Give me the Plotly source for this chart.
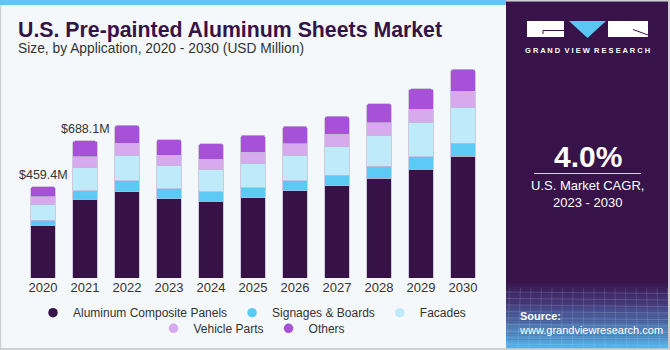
import plotly.graph_objects as go

years = ["2020", "2021", "2022", "2023", "2024", "2025", "2026", "2027", "2028", "2029", "2030"]
acp = [265, 395, 432, 398, 385, 403, 438, 463, 502, 547, 611]
signage = [25, 43, 55, 49, 47, 50, 49, 54, 59, 62, 65]
facades = [78, 116, 129, 116, 112, 123, 129, 142, 156, 173, 181]
vehicle = [39, 54, 60, 52, 52, 55, 57, 62, 63, 65, 80]
others = [52, 80, 90, 80, 78, 85, 89, 90, 94, 102, 110]
label_years = ["2020", "2021"]
label_texts = ["$459.4M", "$688.1M"]

series = [
    ("Aluminum Composite Panels", acp, "#371247", "legend"),
    ("Signages & Boards", signage, "#5BCBF5", "legend"),
    ("Facades", facades, "#BEEAF9", "legend"),
    ("Vehicle Parts", vehicle, "#D6AAEC", "legend2"),
    ("Others", others, "#A750D8", "legend2"),
]

FONT = "Liberation Sans"
BG = "#F4F8FB"

# plot area in pixels
PX0, PW = 22, 462
PYB, PH = 278, 218


def px(x):
    return (x - PX0) / PW


def py(y):
    return (PYB - y) / PH


fig = go.Figure()
for name, vals, color, lg in series:
    fig.add_trace(go.Bar(
        x=years, y=vals, name=name, showlegend=False,
        marker=dict(color=color, line=dict(color="rgba(190,185,210,0.9)", width=0.8)),
        hoverinfo="skip",
    ))
for name, vals, color, lg in series:
    fig.add_trace(go.Scatter(
        x=[None], y=[None], mode="markers", name=name, legend=lg,
        marker=dict(color=color, size=9.5, symbol="circle"),
    ))

totals = [a + b + c + d + e for a, b, c, d, e in zip(acp, signage, facades, vehicle, others)]
annotations = []
for yr, txt in zip(label_years, label_texts):
    i = years.index(yr)
    annotations.append(dict(x=i, y=totals[i], xref="x", yref="y", text=txt, showarrow=False,
                            yanchor="bottom", yshift=3,
                            font=dict(family=FONT, size=12.5, color="#333333")))

# Title texts
annotations += [
    dict(xref="paper", yref="paper", x=px(16), y=py(44), xanchor="left", yanchor="bottom",
         text="<b>U.S. Pre-painted Aluminum Sheets Market</b>", showarrow=False,
         font=dict(family=FONT, size=21.3, color="#361347")),
    dict(xref="paper", yref="paper", x=px(16), y=py(49), xanchor="left", yanchor="middle",
         text="Size, by Application, 2020 - 2030 (USD Million)", showarrow=False,
         font=dict(family=FONT, size=13.8, color="#333333")),
]

# right panel texts
annotations += [
    dict(xref="paper", yref="paper", x=px(587.5), y=py(51), xanchor="center", yanchor="middle",
         text="<b>G R A N D  V I E W  R E S E A R C H</b>", showarrow=False,
         font=dict(family=FONT, size=7.5, color="white")),
    dict(xref="paper", yref="paper", x=px(587.5), y=py(156), xanchor="center", yanchor="middle",
         text="<b>4.0%</b>", showarrow=False, font=dict(family=FONT, size=30, color="white")),
    dict(xref="paper", yref="paper", x=px(587), y=py(193.5), xanchor="center", yanchor="middle",
         text="U.S. Market CAGR,<br>2023 - 2030", showarrow=False,
         font=dict(family=FONT, size=13, color="white")),
    dict(xref="paper", yref="paper", x=px(517), y=py(323), xanchor="left", yanchor="middle",
         text="<b>Source:</b><br>www.grandviewresearch.com", showarrow=False, align="left",
         font=dict(family=FONT, size=11, color="white")),
]

shapes = []
# top blue bar
shapes.append(dict(type="rect", xref="paper", yref="paper", x0=px(0), x1=px(506), y0=py(0), y1=py(5),
                   fillcolor="#62C6EE", line=dict(width=0), layer="below"))
# outer borders
shapes.append(dict(type="rect", xref="paper", yref="paper", x0=px(0), x1=px(1.2), y0=py(5), y1=py(350),
                   fillcolor="#CFCFCF", line=dict(width=0), layer="below"))
shapes.append(dict(type="rect", xref="paper", yref="paper", x0=px(0), x1=px(670), y0=py(348), y1=py(350),
                   fillcolor="#CFCFCF", line=dict(width=0), layer="below"))
shapes.append(dict(type="rect", xref="paper", yref="paper", x0=px(668), x1=px(670), y0=py(0), y1=py(350),
                   fillcolor="#CFCFCF", line=dict(width=0), layer="below"))
shapes.append(dict(type="rect", xref="paper", yref="paper", x0=px(506), x1=px(670), y0=py(0), y1=py(1.5),
                   fillcolor="#CFCFCF", line=dict(width=0), layer="below"))
# panel
shapes.append(dict(type="rect", xref="paper", yref="paper", x0=px(506), x1=px(668), y0=py(1.5), y1=py(348),
                   fillcolor="#371349", line=dict(width=0), layer="below"))
# gradient strips at bottom of panel
n = 32
top, bot = 280, 348
c0 = (56, 20, 74)
c1 = (70, 60, 125)
c2 = (84, 178, 230)
for k in range(n):
    t = k / (n - 1)
    if t < 0.35:
        u = t / 0.35
        c = tuple(int(c0[j] + (c1[j] - c0[j]) * u) for j in range(3))
    else:
        u = (t - 0.35) / 0.65
        c = tuple(int(c1[j] + (c2[j] - c1[j]) * u) for j in range(3))
    y0 = top + (bot - top) * k / n
    y1 = top + (bot - top) * (k + 1) / n
    shapes.append(dict(type="rect", xref="paper", yref="paper", x0=px(506), x1=px(668), y0=py(y0), y1=py(y1 + 0.3),
                       fillcolor="rgb(%d,%d,%d)" % c, line=dict(width=0), layer="below"))
# faint grid texture
for k in range(9):
    yy = 292 + k * 6.5
    shapes.append(dict(type="line", xref="paper", yref="paper", x0=px(506), x1=px(668), y0=py(yy), y1=py(yy + 1.5),
                       line=dict(color="rgba(200,220,255,0.18)", width=1), layer="below"))
for k in range(16):
    xx = 510 + k * 10.5
    shapes.append(dict(type="line", xref="paper", yref="paper", x0=px(xx), x1=px(xx - 3 + k * 0.4), y0=py(288), y1=py(348),
                       line=dict(color="rgba(200,220,255,0.15)", width=1), layer="below"))
# CAGR divider
shapes.append(dict(type="line", xref="paper", yref="paper", x0=px(534), x1=px(641), y0=py(173.5), y1=py(173.5),
                   line=dict(color="#D8D0E0", width=1.2)))
# logo: G block
shapes.append(dict(type="rect", xref="paper", yref="paper", x0=px(527), x1=px(564), y0=py(21), y1=py(37),
                   fillcolor="white", line=dict(width=0)))
shapes.append(dict(type="line", xref="paper", yref="paper", x0=px(543), x1=px(564), y0=py(30.5), y1=py(30.5),
                   line=dict(color="#371349", width=1)))
shapes.append(dict(type="line", xref="paper", yref="paper", x0=px(543), x1=px(543), y0=py(30.5), y1=py(34),
                   line=dict(color="#371349", width=1)))
# V triangle
shapes.append(dict(type="path", xref="paper", yref="paper",
                   path="M %f,%f L %f,%f L %f,%f Z" % (px(569), py(21), px(606), py(21), px(587.5), py(38)),
                   fillcolor="#5BC6F2", line=dict(width=0)))
# R block
shapes.append(dict(type="rect", xref="paper", yref="paper", x0=px(608), x1=px(648), y0=py(21), y1=py(37),
                   fillcolor="white", line=dict(width=0)))
shapes.append(dict(type="line", xref="paper", yref="paper", x0=px(633), x1=px(648), y0=py(29.5), y1=py(35),
                   line=dict(color="#371349", width=1)))

legend_common = dict(orientation="h", xanchor="center", yanchor="middle", traceorder="normal",
                     font=dict(family=FONT, size=12, color="#333333"), bgcolor="rgba(0,0,0,0)",
                     itemwidth=30, tracegroupgap=0)

fig.update_layout(
    width=670, height=350,
    margin=dict(l=PX0, r=670 - PX0 - PW, t=PYB - PH, b=350 - PYB, autoexpand=False),
    paper_bgcolor=BG, plot_bgcolor=BG,
    barmode="stack", bargap=0.42, barcornerradius=2,
    font=dict(family=FONT, size=13, color="#333333"),
    xaxis=dict(type="category", range=[-0.5, 10.5], showgrid=False, showline=False, zeroline=False,
               ticks="", ticklabelstandoff=0, tickfont=dict(family=FONT, size=13, color="#333333"),
               fixedrange=True, automargin=False),
    yaxis=dict(range=[0, 218 * 5.02], visible=False, showgrid=False, fixedrange=True, automargin=False),
    legend=dict(x=px(252), y=py(312.7), **legend_common),
    legend2=dict(x=px(252), y=py(328.3), **legend_common),
    annotations=annotations, shapes=shapes,
    showlegend=True,
)

fig.write_html("out.html")
